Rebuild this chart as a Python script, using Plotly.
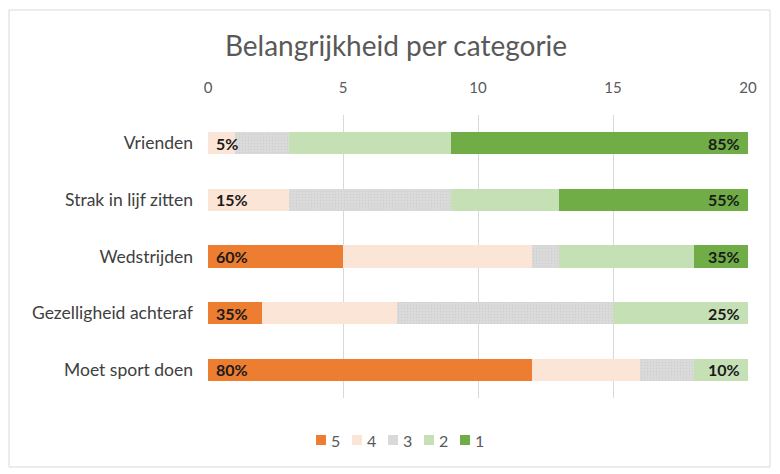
import plotly.graph_objects as go

categories = ["Vrienden", "Strak in lijf zitten", "Wedstrijden", "Gezelligheid achteraf", "Moet sport doen"]
series_names = ["5", "4", "3", "2", "1"]
s5 = [0, 0, 5, 2, 12]
s4 = [1, 3, 7, 5, 4]
s3 = [2, 6, 1, 8, 2]
s2 = [6, 4, 5, 5, 2]
s1 = [11, 7, 2, 0, 0]
total = 20

colors = ["#ED7D31", "#FBE5D6", "#D9D9D9", "#C5E0B4", "#70AD47"]
values = [s5, s4, s3, s2, s1]

fig = go.Figure()
for name, vals, col in zip(series_names, values, colors):
    marker = dict(color=col, line=dict(width=0))
    if name == "3":
        marker["pattern"] = dict(shape=".", fgcolor="#C4C4C4", bgcolor="#DCDCDC", size=3, solidity=0.3)
    fig.add_trace(go.Bar(y=categories, x=vals, name=name, orientation="h", marker=marker,
                         hoverinfo="x+name", showlegend=False))

left_lbl = [f"{round((a + b) / total * 100)}%" for a, b in zip(s5, s4)]
right_lbl = [f"{round((a + b) / total * 100)}%" for a, b in zip(s2, s1)]

lab_font = dict(size=16, color="#1a1a1a", family="Lato, sans-serif")
annotations = []
for cat, lt, rt in zip(categories, left_lbl, right_lbl):
    annotations.append(dict(x=0, y=cat, xref="x", yref="y", text=f"<b>{lt}</b>", showarrow=False,
                            xanchor="left", xshift=6, font=lab_font))
    annotations.append(dict(x=total, y=cat, xref="x", yref="y", text=f"<b>{rt}</b>", showarrow=False,
                            xanchor="right", xshift=-6, font=lab_font))

# page body has an 8px margin; work in figure coordinates
OFF = 8
W, H = 780 - OFF, 474 - OFF
l, r, t, b = 208 - OFF, 780 - 748, 115 - OFF, 474 - 398
pw, ph = W - l - r, H - t - b
def px2paper_x(px):
    return (px - OFF - l) / pw
def px2paper_y(py):
    return 1 - (py - OFF - t) / ph

shapes = [dict(type="rect", xref="paper", yref="paper",
               x0=px2paper_x(9), x1=px2paper_x(770), y0=px2paper_y(467), y1=px2paper_y(10),
               line=dict(color="#D9D9D9", width=1), fillcolor="rgba(0,0,0,0)", layer="below")]

# legend (drawn as decoration, Excel-style compact layout)
leg_x0, leg_step, leg_y, sq = 316, 36, 440, 10
for i, (name, col) in enumerate(zip(series_names, colors)):
    x0 = leg_x0 + i * leg_step
    shapes.append(dict(type="rect", xref="paper", yref="paper",
                       x0=px2paper_x(x0), x1=px2paper_x(x0 + sq),
                       y0=px2paper_y(leg_y + sq / 2), y1=px2paper_y(leg_y - sq / 2),
                       line=dict(width=0), fillcolor=col))
    annotations.append(dict(x=px2paper_x(x0 + sq + 3), y=px2paper_y(leg_y), xref="paper", yref="paper",
                            text=name, showarrow=False, xanchor="left", yanchor="middle",
                            font=dict(size=16, color="#595959")))

fig.update_layout(
    width=W, height=H,
    margin=dict(l=l, r=r, t=t, b=b, autoexpand=False),
    barmode="stack",
    bargap=0.61,
    showlegend=False,
    paper_bgcolor="white",
    plot_bgcolor="white",
    font=dict(family="Lato, Open Sans, sans-serif", color="#595959"),
    title=dict(text="Belangrijkheid per categorie", x=(396 - OFF) / W, xref="container", xanchor="center",
               y=1 - (46 - OFF) / H, yref="container", yanchor="middle",
               font=dict(size=28, color="#595959")),
    xaxis=dict(side="top", range=[0, 20], tickvals=[0, 5, 10, 15, 20], showgrid=True,
               gridcolor="#D9D9D9", gridwidth=1, zeroline=False, showline=False,
               tickfont=dict(size=15, color="#595959"), ticks="", ticklabelstandoff=18,
               fixedrange=True),
    yaxis=dict(categoryorder="array", categoryarray=categories, autorange="reversed",
               showgrid=False, showline=False, ticks="", ticklabelstandoff=14,
               tickfont=dict(size=17.5, color="#404040")),
    annotations=annotations,
    shapes=shapes,
)

fig.write_html("out.html")
